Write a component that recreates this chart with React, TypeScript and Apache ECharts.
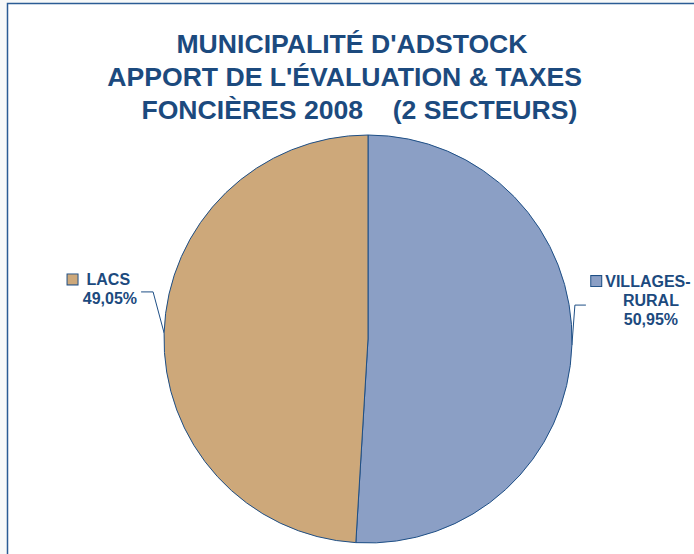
import React, { useEffect, useRef } from "react";
import * as echarts from "echarts";

const titleLines = [
  "MUNICIPALITÉ D'ADSTOCK",
  "APPORT DE L'ÉVALUATION & TAXES  ",
  "  FONCIÈRES 2008    (2 SECTEURS)",
];
const categories = ["VILLAGES-\nRURAL", "LACS"];
const values = [50.95, 49.05];
const percentLabels = ["50,95%", "49,05%"];
const colors = ["#8B9FC5", "#CDA87A"];

const TEXT_COLOR = "#1C4A7E";
const EDGE_COLOR = "#1E4F86";

export default function App() {
  const ref = useRef<HTMLDivElement>(null);
  useEffect(() => {
    if (!ref.current) return;
    const chart = echarts.init(ref.current, null, { renderer: "svg" });
    const data = categories.map((c, i) => ({
      name: c,
      value: values[i],
      itemStyle: { color: colors[i] },
    }));
    chart.setOption({
      animation: false,
      backgroundColor: "#F7F9F9",
      graphic: [
        {
          type: "rect",
          shape: { x: 7.5, y: 3.5, width: 800, height: 700 },
          style: { fill: "#FFFFFF", stroke: "#2B5C95", lineWidth: 1.5 },
          z: -10,
        },
        {
          type: "text",
          x: 352,
          y: 27,
          style: {
            text: titleLines.join("\n"),
            fill: TEXT_COLOR,
            font: "bold 26.6px 'Liberation Sans', Arial, sans-serif",
            textAlign: "center",
            lineHeight: 33,
          },
        },
      ],
      series: [
        {
          type: "pie",
          center: [368, 339],
          radius: 204,
          startAngle: 90,
          clockwise: true,
          data,
          itemStyle: { borderColor: EDGE_COLOR, borderWidth: 1 },
          emphasis: { disabled: true },
          label: {
            show: true,
            position: "outside",
            overflow: "none",
            formatter: (p: any) =>
              p.dataIndex === 0
                ? "{sq|}{g1|}{t|VILLAGES-}{g3|}\n{t|RURAL}\n{t|" + percentLabels[0] + "}"
                : "{sq|}{g2|}{t|LACS}{g4|}\n{t|" + percentLabels[1] + "}",
            rich: {
              sq: {
                width: 10,
                height: 10,
                borderColor: EDGE_COLOR,
                borderWidth: 1,
                backgroundColor: "inherit",
              },
              g1: { width: 4 },
              g2: { width: 9 },
              g3: { width: 20 },
              g4: { width: 7 },
              t: {
                color: TEXT_COLOR,
                fontSize: 16,
                fontWeight: "bold",
                fontFamily: "'Liberation Sans', Arial, sans-serif",
                lineHeight: 19,
              },
            },
            align: "center",
          },
          labelLine: {
            show: true,
            length: 10,
            length2: 10,
            lineStyle: { color: EDGE_COLOR, width: 1 },
          },
          labelLayout: (params: any) => {
            const pts = params.labelLinePoints;
            if (!pts) return {};
            const edge = pts[0];
            if (params.dataIndex === 1) {
              const bend = [edge[0] - 11, edge[1] - 41];
              const end = [bend[0] - 12, bend[1]];
              return {
                x: end[0] - 4,
                y: end[1] - 3,
                align: "right",
                verticalAlign: "middle",
                labelLinePoints: [edge, bend, end],
              };
            } else {
              const bend = [edge[0] + 3, edge[1] - 40];
              const end = [bend[0] + 11, bend[1]];
              return {
                x: end[0] + 65,
                y: end[1] - 5,
                align: "center",
                verticalAlign: "middle",
                labelLinePoints: [edge, bend, end],
              };
            }
          },
        },
      ],
    });
    return () => chart.dispose();
  }, []);
  return (
    <div
      ref={ref}
      style={{ position: "fixed", left: 0, top: 0, width: 694, height: 554 }}
    />
  );
}
